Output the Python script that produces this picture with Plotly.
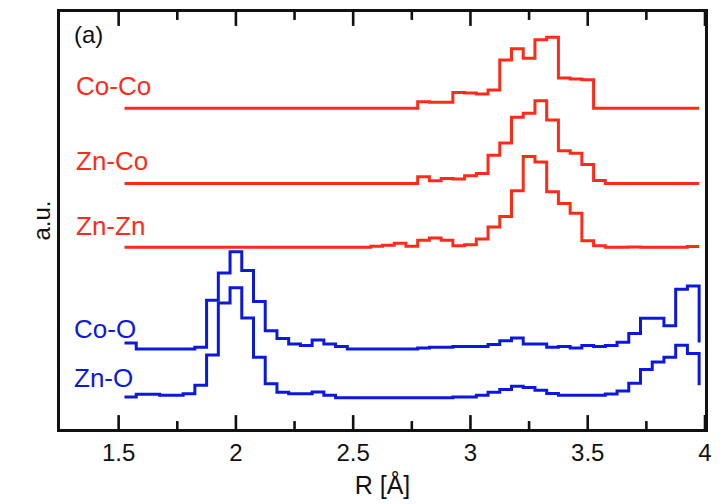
import plotly.graph_objects as go

# Histogram bins of the pair distances R (Å): 49 bins of 0.05 Å from 1.525 Å
BIN_START = 1.525
BIN_WIDTH = 0.05
N_BINS = 49
r_edges = [round(BIN_START + BIN_WIDTH * i, 3) for i in range(N_BINS + 1)]

# Vertical offsets of the stacked curves (a.u.)
offset_co_co = 323.0
offset_zn_co = 247.3
offset_zn_zn = 183.0
offset_co_o = 80.7
offset_zn_o = 31.5

# Bin heights above each curve's baseline (a.u.)
co_co = [0, 0, 0, 0, 0, 0, 0, 0, 0, 0,
         0, 0, 0, 0, 0, 0, 0, 0, 0, 0,
         0, 0, 0, 0, 0,
         6.7, 6, 6, 16, 15.3, 14.5, 18.5, 48.7, 60, 50.5, 69, 71.5, 30.5, 29.5, 28.7,
         0, 0, 0, 0, 0, 0, 0, 0, 0]
zn_co = [0, 0, 0, 0, 0, 0, 0, 0, 0, 0,
         0, 0, 0, 0, 0, 0, 0, 0, 0, 0,
         0, 0, 0, 0, 0,
         6.7, 2.7, 5, 4.4, 7.7, 10, 28.4, 40.7, 66.7, 70.7, 83.2, 63.9, 32.9, 30.5, 19.2, 2.9,
         0, 0, 0, 0, 0, 0, 0, 0]
zn_zn = [0, 0, 0, 0, 0, 0, 0, 0, 0, 0,
         0, 0, 0, 0, 0, 0, 0, 0, 0, 0, 0,
         1, 2, 4, 1, 7, 9.5, 7, 1.5, 2.5, 8.3, 20.5, 31, 57, 91.5, 86, 56, 44, 34.3, 6.5, 1.5,
         0, 0, 0.3, 0, 0, 0, 0, 0.7]
co_o = [6, 0, 0, 0, 0, 0, 1.6,
        49, 76.3, 97.8, 79, 47.6, 18.3, 10.5, 5, 3.3, 9, 5, 2.3,
        0, 0, 0, 0, 0, 0,
        1, 1.6, 1.6, 2.3, 2.3, 2.3, 4.3, 8.3, 11, 5,
        5, 1.6, 2.3, 0.8, 3.3, 2.3, 3.3, 6.6, 15.6, 30.8,
        30.8, 23.3, 60, 63.3]
zn_o = [0.8, 3.5, 3.5, 2.5, 2.5, 4, 12.5, 43, 95.5, 110.8, 80.2, 40.8, 14.2, 5.5, 4, 4, 5.8, 2.5,
        0, 0, 0, 0, 0, 0, 0, 0, 0, 0,
        0.8, 0.8, 2.5, 5.5, 8.2, 11.5, 10.2, 7.5, 4.2,
        2.5, 2.5, 2.5, 2.5,
        3.8, 6.8, 14.5, 28.5, 36, 40.8, 52.8, 44.5]

# Level reached by the closing vertical segment at the last bin edge
co_o_end = 6.3
zn_o_end = 12.5

x_ticks = [1.5, 2, 2.5, 3, 3.5, 4]
x_tick_labels = ["1.5", "2", "2.5", "3", "3.5", "4"]
x_minor_ticks = [1.75, 2.25, 2.75, 3.25, 3.75]
X_RANGE = [1.25, 4.0]
Y_RANGE = [0, 420]          # 420 a.u. over a 420 px tall plot area
MAJOR_LEN = 14
MINOR_LEN = 8

RED = "#ff2a18"
BLUE = "#0c18dc"
INK = "#111111"
FONT = "Liberation Sans, Arial, sans-serif"

series = [
    ("Co-Co", co_co, offset_co_co, co_co[-1], RED),
    ("Zn-Co", zn_co, offset_zn_co, zn_co[-1], RED),
    ("Zn-Zn", zn_zn, offset_zn_zn, zn_zn[-1], RED),
    ("Co-O", co_o, offset_co_o, co_o_end, BLUE),
    ("Zn-O", zn_o, offset_zn_o, zn_o_end, BLUE),
]

fig = go.Figure()
for name, heights, off, end, color in series:
    y = [off + h for h in heights] + [off + end]
    fig.add_trace(go.Scatter(
        x=r_edges, y=y, mode="lines", name=name,
        line=dict(color=color, width=3, shape="hv"),
        showlegend=False, hoverinfo="skip",
    ))

# Inward tick marks on the bottom and top frame edges
tick_x, tick_y = [], []
for values, length in ((x_ticks, MAJOR_LEN), (x_minor_ticks, MINOR_LEN)):
    for v in values:
        tick_x += [v, v, None, v, v, None]
        tick_y += [Y_RANGE[0], Y_RANGE[0] + length, None,
                   Y_RANGE[1], Y_RANGE[1] - length, None]
fig.add_trace(go.Scatter(x=tick_x, y=tick_y, mode="lines",
                         line=dict(color=INK, width=2.6),
                         showlegend=False, hoverinfo="skip", cliponaxis=False))

# Curve labels (paper coordinates) and panel tag
labels = [
    ("Co-Co", 0.021, 0.822, RED),
    ("Zn-Co", 0.021, 0.643, RED),
    ("Zn-Zn", 0.021, 0.488, RED),
    ("Co-O", 0.019, 0.240, BLUE),
    ("Zn-O", 0.019, 0.123, BLUE),
]
for text, xp, yp, color in labels:
    fig.add_annotation(text=text, x=xp, y=yp, xref="paper", yref="paper",
                       xanchor="left", yanchor="middle", showarrow=False,
                       font=dict(family=FONT, size=26, color=color))
fig.add_annotation(text="(a)", x=0.019, y=0.947, xref="paper", yref="paper",
                   xanchor="left", yanchor="middle", showarrow=False,
                   font=dict(family=FONT, size=24, color=INK))

fig.update_layout(
    width=721, height=504,
    margin=dict(l=60, r=9, t=9, b=75),
    paper_bgcolor="white", plot_bgcolor="white",
    font=dict(family=FONT, size=24, color=INK),
    xaxis=dict(
        range=X_RANGE, tickmode="array", tickvals=x_ticks, ticktext=x_tick_labels,
        ticks="", showline=True, linewidth=2.6, linecolor=INK, mirror=True,
        showgrid=False, zeroline=False,
        tickfont=dict(family=FONT, size=24, color=INK),
        title=dict(text="R [Å]", font=dict(family=FONT, size=25, color=INK), standoff=12),
    ),
    yaxis=dict(
        range=Y_RANGE, showticklabels=False, ticks="",
        showline=True, linewidth=2.6, linecolor=INK, mirror=True,
        showgrid=False, zeroline=False,
        title=dict(text="a.u.", font=dict(family=FONT, size=24, color=INK), standoff=0),
    ),
)

fig.write_html("out.html")
